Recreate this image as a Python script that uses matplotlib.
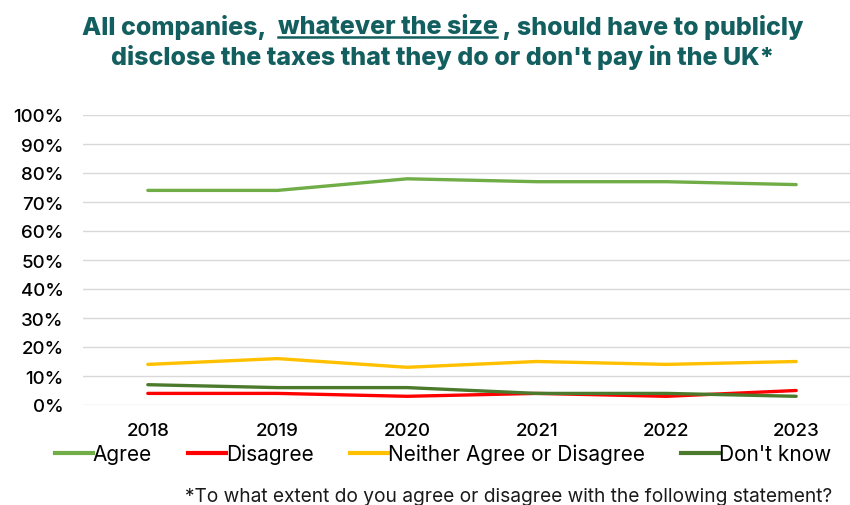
import matplotlib
matplotlib.use("Agg")
import matplotlib.pyplot as plt
from matplotlib.lines import Line2D
from matplotlib import font_manager

years = ["2018", "2019", "2020", "2021", "2022", "2023"]
agree = [74, 74, 78, 77, 77, 76]
disagree = [4, 4, 3, 4, 3, 5]
neither = [14, 16, 13, 15, 14, 15]
dont_know = [7, 6, 6, 4, 4, 3]

series_names = ["Agree", "Disagree", "Neither Agree or Disagree", "Don't know"]
series_colors = ["#70AD47", "#FF0000", "#FFC000", "#4B7A2C"]

title_color = "#135E5E"

names = {f.name for f in font_manager.fontManager.ttflist}
font = "Inter" if "Inter" in names else "DejaVu Sans"

fig = plt.figure(figsize=(8.5, 5.06), dpi=100)
ax = fig.add_axes([83 / 850, 100 / 506, 778 / 850, 290 / 506])

x = range(len(years))
ax.plot(x, agree, color=series_colors[0], lw=2.4, solid_capstyle="round", zorder=3)
ax.plot(x, neither, color=series_colors[2], lw=2.4, solid_capstyle="round", zorder=3)
ax.plot(x, disagree, color=series_colors[1], lw=2.4, solid_capstyle="round", zorder=3)
ax.plot(x, dont_know, color=series_colors[3], lw=2.4, solid_capstyle="round", zorder=4)

ax.set_xlim(-0.5, len(years) - 0.5)
ax.set_ylim(0, 100)
ax.set_yticks(range(0, 101, 10))
ax.set_yticklabels([f"{v}%" for v in range(0, 101, 10)])
ax.set_xticks(list(x))
ax.set_xticklabels(years)
ax.grid(axis="y", color="#D9D9D9", lw=1.0)
ax.set_axisbelow(True)
for s in ax.spines.values():
    s.set_visible(False)
ax.tick_params(axis="y", length=0, pad=14, labelsize=13.5)
ax.tick_params(axis="x", length=0, pad=12, labelsize=13.5)
for lab in ax.get_xticklabels() + ax.get_yticklabels():
    lab.set_fontfamily(font)
    lab.set_fontweight("medium")

# legend
handles = [Line2D([0], [0], color=c, lw=3) for c in series_colors]
fig.legend(handles, series_names, loc="center", bbox_to_anchor=(443 / 850, 1 - 455 / 506),
           ncol=4, frameon=False, handlelength=1.8, handletextpad=0.0,
           columnspacing=1.75, prop={"family": font, "size": 15})

# title with underlined middle part
renderer = fig.canvas.get_renderer()
title_kw = dict(fontsize=18, fontweight="heavy", color=title_color, family=font,
                va="center", ha="left")
parts = ["All companies,  ", "whatever the size", " , should have to publicly"]
y1 = 1 - 27 / 506
texts = [fig.text(0, y1, p, **title_kw) for p in parts]
widths = [t.get_window_extent(renderer).width for t in texts]
x0 = 443 - sum(widths) / 2
for t, w in zip(texts, widths):
    t.set_x(x0 / 850)
    x0 += w
ext = texts[1].get_window_extent(renderer)
uy = (ext.y0 + 1) / 506
fig.add_artist(Line2D([ext.x0 / 850, ext.x1 / 850], [uy, uy], color=title_color, lw=1.8))

fig.text(443 / 850, 1 - 57 / 506, "disclose the taxes that they do or don't pay in the UK*",
         fontsize=18, fontweight="heavy", color=title_color, family=font,
         ha="center", va="center")

fig.text(832 / 850, 1 - 497 / 506,
         "*To what extent do you agree or disagree with the following statement?",
         fontsize=13.8, family=font, color="#1A1A1A", ha="right", va="center")

fig.savefig("out.png", dpi=100)
